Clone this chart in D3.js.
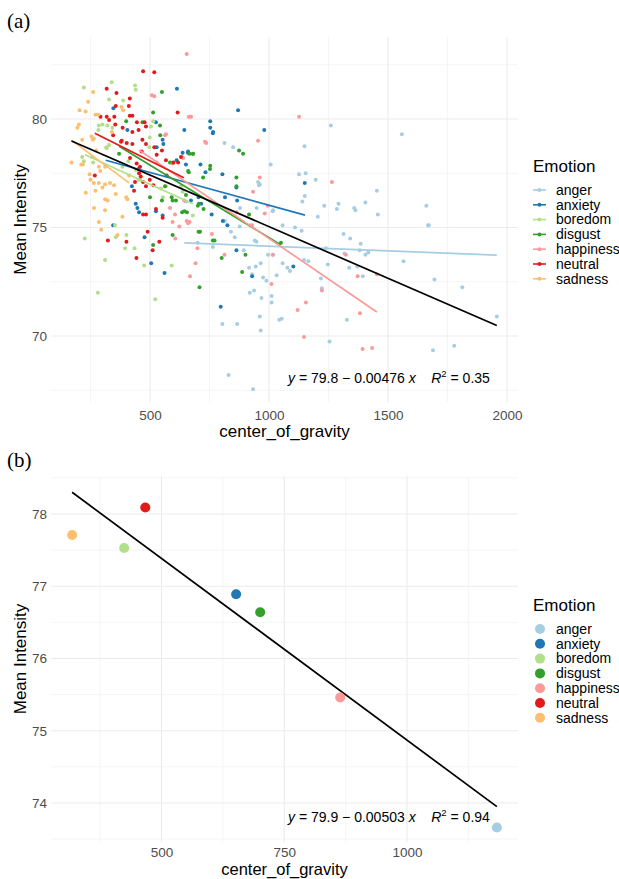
<!DOCTYPE html>
<html>
<head>
<meta charset="utf-8">
<script src="https://cdn.jsdelivr.net/npm/d3@7"></script>
<style>
body { margin: 0; background: #fff; }
text { font-family: "Liberation Sans", Arial, sans-serif; }
</style>
</head>
<body>
<svg id="chart" width="619" height="879"></svg>
<script>
// emotions and palette (ColorBrewer Paired)
var emotions = ['anger', 'anxiety', 'boredom', 'disgust', 'happiness', 'neutral', 'sadness'];
var palette = d3.schemePaired.slice(0, 7);

// panel (a): one point per recording, [center_of_gravity, mean intensity]
var anger = [[813,78.9],[849,78.7],[954,77.1],[961,77.0],[1017,75.8],[1260,79.7],[1558,79.3],[1149,78.75],[1154,77.5],[1126,77.45],
  [1196,77.2],[1150,76.45],[1140,76.2],[1232,76.0],[1292,76.1],[1285,75.85],[1358,75.9],[1363,75.8],[1405,76.15],[1453,76.7],
  [1457,75.6],[1205,75.5],[1661,76.0],[1671,75.1],[1137,74.85],[1313,74.7],[1341,74.5],[1385,74.25],[1381,73.95],[1417,73.85],
  [1405,73.75],[1317,73.8],[1239,74.05],[1165,73.45],[1247,73.3],[1337,73.15],[1371,73.2],[1394,72.75],[1218,72.65],[1222,72.2],
  [1327,70.75],[1254,69.75],[1668,75.1],[1565,73.45],[1695,72.6],[1812,72.25],[1689,69.35],[1778,69.55],[1957,70.9],[856,74.55],
  [877,75.05],[922,75.1],[1057,75.1],[1109,75.0],[940,74.4],[947,74.35],[894,73.95],[916,73.15],[944,73.2],[965,73.35],
  [929,72.85],[975,72.7],[989,72.55],[1032,72.8],[1018,73.75],[996,73.75],[1057,73.35],[1077,73.15],[1088,73.0],[1147,73.5],
  [919,72.0],[937,72.1],[968,71.75],[1011,71.85],[1011,71.55],[961,70.9],[965,70.25],[1043,70.75],[1053,70.8],[804,70.55],
  [866,70.55],[830,68.2],[933,67.55],[1007,77.9],[958,76.95],[878,75.9],[948,75.9],[651,76.2],[1015,75.75],[815,75.3],
  [840,74.8],[764,74.1],[700,74.3]];
var anxiety = [[613,81.4],[870,80.4],[980,79.5],[753,79.9],[753,79.6],[764,79.35],[644,79.5],[525,79.85],[346,80.5],[405,79.5],
  [553,79.05],[556,78.85],[637,78.45],[659,78.45],[651,77.9],[712,77.9],[733,77.55],[804,77.45],[863,76.85],[866,76.25],
  [672,76.25],[704,76.4],[440,76.1],[447,75.9],[454,75.7],[525,75.75],[345,75.1],[553,75.55],[715,76.1],[1150,77.05],
  [477,74.55],[505,73.35],[561,72.9],[825,75.1],[863,73.95],[929,72.75],[797,71.35],[1102,73.2],[765,79.4],[660,78.5],
  [528,78.7],[612,78.1],[815,76.4],[424,76.9],[759,75.6],[806,75.3]];
var boredom = [[222,81.45],[339,81.7],[440,81.35],[437,81.55],[328,80.9],[387,80.85],[285,79.7],[300,79.75],[283,79.5],[321,79.7],
  [342,79.6],[316,78.7],[328,78.8],[264,79.1],[257,78.25],[513,79.9],[504,79.65],[666,80.1],[497,78.7],[499,79.15],
  [384,77.8],[409,78.05],[440,77.65],[452,77.2],[546,76.8],[567,76.9],[588,78.0],[630,76.9],[637,76.65],[680,75.55],
  [215,78.25],[222,78.05],[261,78.0],[226,74.5],[311,73.5],[281,72.0],[353,75.1],[356,74.55],[401,74.65],[395,74.05],
  [435,74.05],[475,73.25],[522,71.7],[591,73.25],[318,78.65],[458,77.2],[554,76.4]];
var disgust = [[550,81.25],[513,80.3],[542,79.7],[543,79.25],[468,79.85],[666,78.4],[680,78.4],[753,77.85],[874,78.55],[891,78.4],
  [663,77.55],[584,78.0],[563,76.9],[609,76.25],[635,75.7],[644,75.75],[705,76.1],[725,75.85],[863,77.3],[863,76.9],
  [550,76.25],[595,76.25],[651,76.5],[704,74.8],[595,74.65],[513,74.2],[764,74.4],[771,74.4],[801,73.6],[901,73.75],
  [887,72.95],[708,72.25],[1050,74.3],[723,77.3],[752,77.7],[591,76.4],[681,78.4],[660,77.6],[655,75.7],[701,76.0],
  [710,74.8],[500,76.4],[916,75.6],[370,78.4],[400,79.9]];
var happiness = [[654,83.0],[508,81.1],[518,81.05],[663,80.1],[673,80.1],[1126,80.1],[563,79.25],[736,78.9],[954,79.0],[635,78.25],
  [595,77.95],[584,75.9],[644,76.25],[595,75.25],[666,75.25],[933,76.65],[961,77.3],[982,75.65],[606,74.5],[623,75.05],
  [660,75.2],[699,74.05],[691,73.35],[668,72.75],[760,74.7],[813,73.75],[929,75.1],[1015,73.75],[1010,72.4],[1120,71.2],
  [1147,69.95],[1155,71.55],[1264,77.1],[1323,73.75],[1372,72.75],[1453,72.85],[1382,71.05],[1222,72.1],[1393,69.4],[1433,69.45],
  [731,78.95],[528,78.0],[567,79.3],[639,78.2],[605,75.6],[654,75.3],[864,75.7],[995,76.0]];
var neutral = [[471,82.2],[518,82.15],[318,81.4],[359,81.2],[415,80.95],[411,80.6],[292,80.1],[318,80.1],[350,80.1],[328,79.95],
  [354,79.75],[385,79.6],[345,79.25],[378,78.95],[402,78.9],[426,78.85],[415,80.15],[426,80.15],[445,79.85],[452,79.5],
  [477,79.85],[483,79.65],[468,79.05],[483,78.85],[518,78.7],[528,78.35],[616,80.3],[630,78.25],[618,78.0],[567,78.1],
  [550,78.55],[598,78.0],[268,77.4],[444,77.95],[452,77.7],[454,77.5],[461,77.35],[437,77.1],[471,77.1],[433,76.7],
  [483,76.9],[499,77.2],[471,75.6],[483,75.6],[525,75.85],[553,75.45],[514,76.95],[426,79.4],[356,80.6],[323,74.4],
  [401,74.35],[443,73.6],[490,74.8],[511,73.95],[539,74.35],[381,79.0],[465,78.5],[416,78.2],[458,77.8],[570,77.4]];
var sadness = [[261,81.25],[204,80.4],[229,80.35],[201,79.75],[170,78.0],[211,77.9],[271,80.2],[283,80.2],[380,80.55],[387,80.4],
  [254,79.2],[260,79.05],[274,78.55],[285,77.8],[311,77.8],[291,77.6],[246,77.45],[250,77.2],[264,77.05],[285,77.05],
  [311,77.0],[332,77.05],[349,76.95],[300,76.85],[356,76.55],[311,76.3],[322,76.25],[311,75.8],[285,75.25],[271,76.7],
  [384,75.5],[412,77.4],[400,76.4],[405,76.3],[215,79.05],[295,74.9],[363,74.65],[218,77.9],[195,79.6],[240,80.8],
  [340,79.4],[230,76.6],[265,75.9]];

// per-emotion regression segments: [x0, y0, x1, y1]
var angerFit = [644, 74.29, 1957, 73.73];
var anxietyFit = [314, 78.1, 1151, 75.57];
var boredomFit = [227, 78.35, 680, 76.1];
var disgustFit = [370, 78.75, 1050, 74.2];
var happinessFit = [454, 78.57, 1453, 71.11];
var neutralFit = [268, 79.34, 642, 77.29];
var sadnessFit = [170, 79.03, 412, 77.06];

// overall fits (from the equation labels)
var fitA = { intercept: 79.8, slope: -0.00476, r2: '0.35', from: 170, to: 1957 };
var fitB = { intercept: 79.9, slope: -0.00503, r2: '0.94', from: 318, to: 1183 };

// panel (b): emotion means
var cogMeans = [1183, 652, 424, 701, 864, 467, 318];
var intensityMeans = [73.66, 76.89, 77.53, 76.64, 75.46, 78.09, 77.71];

// ticks
var xMajorA = [500, 1000, 1500, 2000], xMinorA = [250, 750, 1250, 1750];
var yMajorA = [70, 75, 80], yMinorA = [67.5, 72.5, 77.5, 82.5];
var xMajorB = [500, 750, 1000], xMinorB = [375, 625, 875, 1125];
var yMajorB = [74, 75, 76, 77, 78], yMinorB = [73.5, 74.5, 75.5, 76.5, 77.5, 78.5];

var color = d3.scaleOrdinal().domain(emotions).range(palette);
var pointsA = { anger: anger, anxiety: anxiety, boredom: boredom, disgust: disgust, happiness: happiness, neutral: neutral, sadness: sadness };
var fitsA = { anger: angerFit, anxiety: anxietyFit, boredom: boredomFit, disgust: disgustFit, happiness: happinessFit, neutral: neutralFit, sadness: sadnessFit };

var svg = d3.select('#chart');

var left = 51, right = 518;

var panelA = { x: d3.scaleLinear().domain([84, 2046]).range([left, right]),
               y: d3.scaleLinear().domain([66.96, 83.78]).range([402, 37]),
               top: 37, bottom: 402, pad: 8, titleGap: 35, titleSize: 17 };
var panelB = { x: d3.scaleLinear().domain([275, 1226]).range([left, right]),
               y: d3.scaleLinear().domain([73.46, 78.526]).range([842, 476]),
               top: 476, bottom: 842, pad: 5.5, titleGap: 33, titleSize: 16.5 };

function drawFrame(p, xMaj, xMin, yMaj, yMin, title) {
  var g = svg.append('g');
  g.selectAll('.xminor').data(xMin).enter().append('line')
    .attr('x1', function (d) { return p.x(d); }).attr('x2', function (d) { return p.x(d); })
    .attr('y1', p.top).attr('y2', p.bottom)
    .attr('stroke', '#f2f2f2').attr('stroke-width', 0.8);
  g.selectAll('.yminor').data(yMin).enter().append('line')
    .attr('y1', function (d) { return p.y(d); }).attr('y2', function (d) { return p.y(d); })
    .attr('x1', left).attr('x2', right)
    .attr('stroke', '#f2f2f2').attr('stroke-width', 0.8);
  g.selectAll('.xmajor').data(xMaj).enter().append('line')
    .attr('x1', function (d) { return p.x(d); }).attr('x2', function (d) { return p.x(d); })
    .attr('y1', p.top).attr('y2', p.bottom)
    .attr('stroke', '#ebebeb').attr('stroke-width', 1.1);
  g.selectAll('.ymajor').data(yMaj).enter().append('line')
    .attr('y1', function (d) { return p.y(d); }).attr('y2', function (d) { return p.y(d); })
    .attr('x1', left).attr('x2', right)
    .attr('stroke', '#ebebeb').attr('stroke-width', 1.1);

  var xa = svg.append('g').attr('transform', 'translate(0,' + p.bottom + ')')
    .call(d3.axisBottom(p.x).tickValues(xMaj).tickSize(0).tickPadding(p.pad).tickFormat(d3.format('d')));
  var ya = svg.append('g').attr('transform', 'translate(' + left + ',0)')
    .call(d3.axisLeft(p.y).tickValues(yMaj).tickSize(0).tickPadding(4).tickFormat(d3.format('d')));
  [xa, ya].forEach(function (a) {
    a.select('.domain').remove();
    a.attr('font-family', null).attr('font-size', null);
    a.selectAll('text').attr('fill', '#4d4d4d').style('font-size', '13.5px');
  });

  svg.append('text').attr('x', (left + right) / 2).attr('y', p.bottom + p.titleGap)
    .attr('text-anchor', 'middle').style('font-size', p.titleSize + 'px').attr('fill', '#000')
    .text('center_of_gravity');
  svg.append('text')
    .attr('transform', 'translate(26,' + (p.top + p.bottom) / 2 + ') rotate(-90)')
    .attr('text-anchor', 'middle').style('font-size', '17px').attr('fill', '#000')
    .text('Mean Intensity');
  svg.append('text').attr('x', 7).attr('y', p.top - 9)
    .style('font-family', '"Liberation Serif", "Times New Roman", serif').style('font-size', '21px')
    .text(title);
}

function equation(p, fit, baseline) {
  var t = svg.append('text').attr('x', 288).attr('y', p.y(baseline))
    .style('font-size', '14px').style('white-space', 'pre').attr('fill', '#000');
  t.append('tspan').style('font-style', 'italic').text('y');
  t.append('tspan').text(' = ' + fit.intercept.toFixed(1) + ' \u2212 ' + Math.abs(fit.slope) + ' ');
  t.append('tspan').style('font-style', 'italic').text('x');
  t.append('tspan').text('    ');
  t.append('tspan').style('font-style', 'italic').text('R');
  t.append('tspan').attr('dy', -6).style('font-size', '9.5px').text('2');
  t.append('tspan').attr('dy', 6).text(' = ' + fit.r2);
}

function legend(top, withLine) {
  var g = svg.append('g').attr('transform', 'translate(533,' + top + ')');
  g.append('text').attr('x', 0).attr('y', 0).style('font-size', '17px').text('Emotion');
  var items = g.selectAll('.item').data(emotions).enter().append('g')
    .attr('transform', function (d, i) { return 'translate(0,' + (18 + i * 14.8) + ')'; });
  if (withLine) {
    items.append('line').attr('x1', 0).attr('x2', 13).attr('y1', 0).attr('y2', 0)
      .attr('stroke', function (d) { return color(d); }).attr('stroke-width', 1.6);
    items.append('circle').attr('cx', 6.5).attr('cy', 0).attr('r', 2)
      .attr('fill', function (d) { return color(d); });
  } else {
    items.append('circle').attr('cx', 7).attr('cy', 0).attr('r', 5)
      .attr('fill', function (d) { return color(d); });
  }
  items.append('text').attr('x', 23).attr('y', 4.8).style('font-size', '14px')
    .text(function (d) { return d; });
}

// ---- panel (a)
drawFrame(panelA, xMajorA, xMinorA, yMajorA, yMinorA, '(a)');

emotions.forEach(function (e) {
  svg.append('g').selectAll('circle').data(pointsA[e]).enter().append('circle')
    .attr('cx', function (d) { return panelA.x(d[0]); })
    .attr('cy', function (d) { return panelA.y(d[1]); })
    .attr('r', 2)
    .attr('fill', color(e));
});

emotions.forEach(function (e) {
  var f = fitsA[e];
  svg.append('line')
    .attr('x1', panelA.x(f[0])).attr('y1', panelA.y(f[1]))
    .attr('x2', panelA.x(f[2])).attr('y2', panelA.y(f[3]))
    .attr('stroke', color(e)).attr('stroke-width', 1.7);
});

svg.append('line')
  .attr('x1', panelA.x(fitA.from)).attr('y1', panelA.y(fitA.intercept + fitA.slope * fitA.from))
  .attr('x2', panelA.x(fitA.to)).attr('y2', panelA.y(fitA.intercept + fitA.slope * fitA.to))
  .attr('stroke', '#000').attr('stroke-width', 1.7);

equation(panelA, fitA, 67.83);
legend(172, true);

// ---- panel (b)
drawFrame(panelB, xMajorB, xMinorB, yMajorB, yMinorB, '(b)');

svg.append('line')
  .attr('x1', panelB.x(fitB.from)).attr('y1', panelB.y(fitB.intercept + fitB.slope * fitB.from))
  .attr('x2', panelB.x(fitB.to)).attr('y2', panelB.y(fitB.intercept + fitB.slope * fitB.to))
  .attr('stroke', '#000').attr('stroke-width', 1.7);

svg.append('g').selectAll('circle').data(emotions).enter().append('circle')
  .attr('cx', function (d, i) { return panelB.x(cogMeans[i]); })
  .attr('cy', function (d, i) { return panelB.y(intensityMeans[i]); })
  .attr('r', 5)
  .attr('fill', function (d) { return color(d); });

equation(panelB, fitB, 73.73);
legend(611, false);
</script>
</body>
</html>
